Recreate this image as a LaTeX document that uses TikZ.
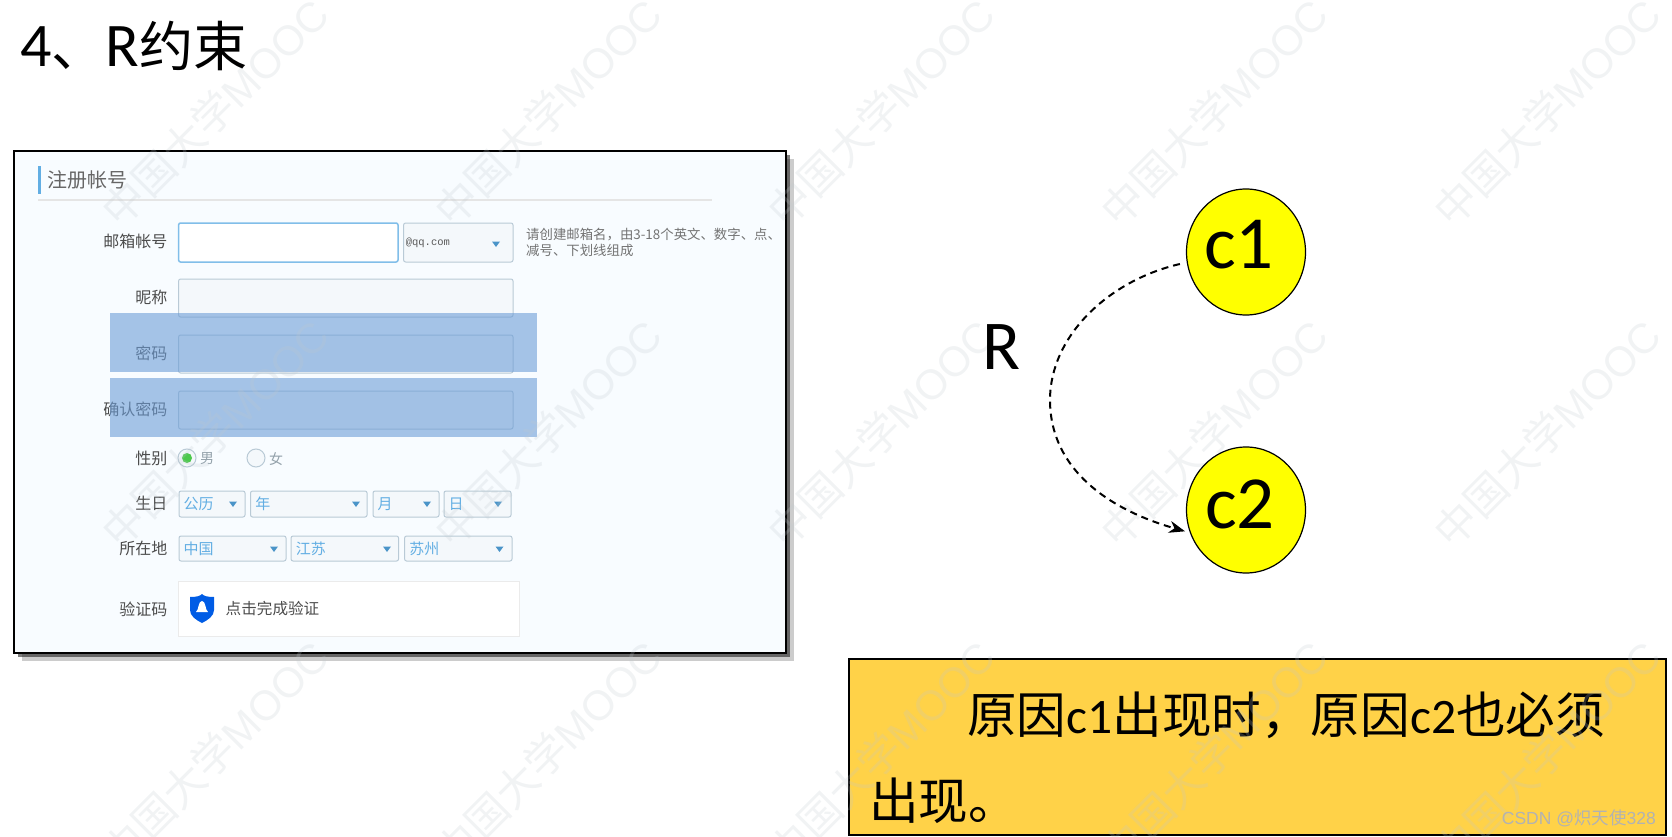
\documentclass[tikz,border=0pt]{standalone}
\usepackage{fontspec}
\usepackage{tikz}
\usetikzlibrary{shapes.geometric,shadows,arrows.meta}
\setmainfont{Carlito}
\newfontfamily\cjk{Noto Sans CJK SC}
\newfontfamily\wmfont{Liberation Sans}
\newfontfamily\domainfont{Liberation Mono}
\newcommand{\fsz}[1]{\fontsize{#1}{#1}\selectfont}
\newcommand{\droparrow}[2]{\fill[dropblue] (#1-4,#2-2.5) -- (#1+4,#2-2.5) -- (#1,#2+3) -- cycle;}
\definecolor{panelbg}{HTML}{F8FCFF}
\definecolor{boxline}{HTML}{B9CAD6}
\definecolor{boxfill}{HTML}{F4F8FB}
\definecolor{dropblue}{HTML}{4A94C8}
\definecolor{formblue}{HTML}{62AEE3}
\definecolor{hilite}{HTML}{6C9DD7}
\definecolor{notefill}{HTML}{FFD248}
\definecolor{causefill}{RGB}{255,255,0}
\definecolor{wmgray}{HTML}{C0C8CE}
\tikzset{
  formbox/.style={draw=boxline, fill=boxfill, rounded corners=2pt, line width=1pt, inner sep=0pt},
  formlabel/.style={anchor=east, inner sep=0pt, text=black!70, font=\fsz{16}\cjk},
  selecttext/.style={anchor=west, inner sep=0pt, text=formblue, font=\fsz{15}\cjk},
  hintline/.style={anchor=west, inner sep=0pt, text=black!55, font=\fsz{13.4}\cjk},
  hilitebar/.style={fill=hilite, fill opacity=.6, inner sep=0pt, minimum width=427pt, minimum height=59pt},
  causenode/.style={ellipse, draw=black, fill=causefill, line width=1.2pt, inner sep=0pt, minimum width=119pt, minimum height=126pt},
  causetext/.style={inner sep=0pt, font=\fsz{75}},
  notetext/.style={anchor=west, inner sep=0pt, font=\fsz{49.6}},
  wmnode/.style={rotate=45, inner sep=0pt, text=wmgray, text opacity=.22, font=\fsz{42}\wmfont},
}

\begin{document}
\begin{tikzpicture}[x=1pt, y=-1pt]
        \useasboundingbox (0,0) rectangle (1672,837);
        \clip (0,0) rectangle (1672,837);

        % Title
        \node[anchor=base west, inner sep=0pt, font=\fsz{62}] (title) at (20,66.5) {4{\cjk\fsz{54}、}R{\cjk\fsz{54}约束}};

        % Form panel
        \fill[black, opacity=.2] (22,159) rectangle (794,661);
        \node[draw=black, fill=panelbg, line width=1.5pt, inner sep=0pt, minimum width=772pt, minimum height=502pt,
              drop shadow={shadow xshift=4pt, shadow yshift=-4pt, opacity=.5, fill=black}] (panel) at (400,402) {};
        \fill[formblue] (38,166) rectangle (41,194);
        \node[anchor=west, inner sep=0pt, text=black!60, font=\fsz{20}\cjk] (formtitle) at (47,180) {注册帐号};
        \draw[black!10, line width=1.2pt] (38,200) -- (712,200);

        % Labels on the left of the form
        \node[formlabel] (lmail) at (167.5,241) {邮箱帐号};
        \node[formlabel] (lnick) at (167.5,297) {昵称};
        \node[formlabel] (lpass) at (167.5,353) {密码};
        \node[formlabel] (lconfirm) at (167.5,409) {确认密码};
        \node[formlabel] (lsex) at (167.5,458) {性别};
        \node[formlabel] (lbirth) at (167.5,503) {生日};
        \node[formlabel] (lplace) at (167.5,548) {所在地};
        \node[formlabel] (lcode) at (167.5,609) {验证码};

        % Input boxes
        \node[formbox, draw=formblue!80, fill=white, line width=1.5pt, minimum width=219.4pt, minimum height=39pt] (mail) at (288.3,242.5) {};
        \node[formbox, minimum width=109.4pt, minimum height=39pt] (domain) at (458.3,242.5) {};
        \node[anchor=west, inner sep=0pt, text=black!65, font=\fsz{10.5}\domainfont] (domaintext) at ([xshift=2.5pt]domain.west) {@qq.com};
        \droparrow{496}{244}
        \node[formbox, minimum width=334.4pt, minimum height=38pt] (nick) at (345.8,298) {};
        \node[formbox, minimum width=334.4pt, minimum height=38pt] (pass) at (345.8,354) {};
        \node[formbox, minimum width=334.4pt, minimum height=38pt] (confirm) at (345.8,410) {};
        \node[hintline] (hinta) at (526,235) {请创建邮箱名，由3-18个英文、数字、点、};
        \node[hintline] (hintb) at (526,250) {减号、下划线组成};

        % Sex radios
        \node[circle, draw=boxline, fill=boxfill, line width=1pt, inner sep=0pt, minimum size=18pt] (male) at (187,458) {};
        \node[circle, fill=green!70!black!70, inner sep=0pt, minimum size=10pt] (maledot) at (male) {};
        \node[anchor=west, inner sep=0pt, text=boxline!80!black, font=\fsz{14}\cjk] (maletext) at (200,459) {男};
        \node[circle, draw=boxline, fill=boxfill, line width=1pt, inner sep=0pt, minimum size=18pt] (female) at (256,458) {};
        \node[anchor=west, inner sep=0pt, text=boxline!80!black, font=\fsz{14}\cjk] (femaletext) at (269,459) {女};

        % Select boxes
        \foreach \nm/\cx/\bw/\txt/\ax in {cal/212/66/公历/233, year/308.8/116.5/年/356, month/406/66/月/427, day/477.5/67/日/498} {
          \node[formbox, minimum width=\bw pt, minimum height=26pt] (\nm) at (\cx,504) {};
          \node[selecttext] (\nm text) at ([xshift=5pt]\nm.west) {\txt};
          \droparrow{\ax}{504}
        }
        \foreach \nm/\cx/\bw/\txt/\ax in {country/232.5/107/中国/274, province/344.8/107.5/江苏/387, city/458.3/107.4/苏州/499.5} {
          \node[formbox, minimum width=\bw pt, minimum height=25pt] (\nm) at (\cx,548.5) {};
          \node[selecttext] (\nm text) at ([xshift=5pt]\nm.west) {\txt};
          \droparrow{\ax}{549}
        }

        % Captcha
        \node[draw=black!8, fill=white, line width=1pt, inner sep=0pt, minimum width=340.4pt, minimum height=55pt] (code) at (348.8,608.5) {};
        \fill[blue!60!cyan!90!black] (190,597) .. controls (197,597) and (200,596) .. (202,594) .. controls (204,596) and (207,597) .. (214,597) -- (214,610) .. controls (214,616) and (208,620) .. (202,623) .. controls (196,620) and (190,616) .. (190,610) -- cycle;
        \fill[white] (196,612) .. controls (199,610) and (198,601) .. (202,601) .. controls (206,601) and (205,610) .. (208,612) -- cycle;
        \node[anchor=west, inner sep=0pt, text=black!70, font=\fsz{15.6}\cjk] (codetext) at (225.5,609) {点击完成验证};

        % Highlight bars
        \node[hilitebar] (barpass) at (323.5,342.5) {};
        \node[hilitebar] (barconfirm) at (323.5,407.5) {};

        % Note box
        \node[draw=black, fill=notefill, line width=1.5pt, inner sep=0pt, minimum width=817pt, minimum height=176pt] (note) at (1257.5,747) {};
        \node[notetext] (notea) at (967,715) {{\cjk 原因}c1{\cjk 出现时，原因}c2{\cjk 也必须}};
        \node[notetext] (noteb) at (869,801) {{\cjk 出现。}};

        % Site marks
        \foreach \col in {0,...,4} {
          \foreach \row in {0,1,2} {
            \node[wmnode] (mark\col\row) at (215+333*\col,112+321*\row) {{\cjk 中国大学}MOOC};
          }
        }
        \node[anchor=east, inner sep=0pt, text=black!30, font=\fsz{17.5}\wmfont] (csdn) at (1656,818) {CSDN @{\cjk 炽天使}328};

        % Causes and the relation
        \node[causenode] (c1) at (1246,252) {};
        \node[causenode] (c2) at (1246,510) {};
        \node[causetext] (c1text) at (1239,245) {c1};
        \node[causetext] (c2text) at (1240,504) {c2};
        \node[inner sep=0pt, font=\fsz{70}] (rel) at (1001,347) {R};
        \coordinate (bend) at (1050,400);
        \draw[line width=2pt, dash pattern=on 7pt off 5pt, -{Stealth[length=16pt,width=12pt,inset=5pt]}, shorten <=7pt, shorten >=5pt]
          (c1.190) .. controls (1110,280) and (1050,335) .. (bend) .. controls (1050,470) and (1110,510) .. (c2.202);
    \end{tikzpicture}
\end{document}
